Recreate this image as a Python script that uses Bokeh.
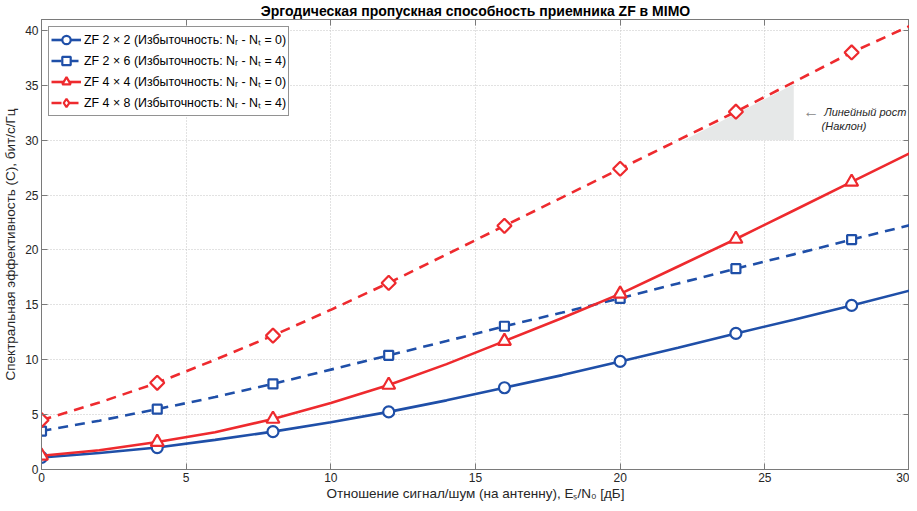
import math
from bokeh.plotting import figure
from bokeh.models import (Range1d, LinearAxis, Legend, LegendItem, Label,
                          FixedTicker)
from bokeh.embed import file_html
from bokeh.resources import INLINE

# ---- data ----
snr_line = [0, 2, 4, 6, 8, 10, 12, 14, 16, 18, 20, 22, 24, 26, 28, 30]
snr_mark = [0, 4, 8, 12, 16, 20, 24, 28]

zf22_line = [1.1, 1.5, 2.0, 2.7, 3.45, 4.3, 5.25, 6.3, 7.45, 8.6, 9.85, 11.1, 12.4, 13.65, 14.95, 16.3]
zf22_mark = [1.1, 2.0, 3.45, 5.25, 7.45, 9.85, 12.4, 14.95]

zf26_line = [3.5, 4.45, 5.5, 6.6, 7.8, 9.1, 10.4, 11.7, 13.05, 14.3, 15.6, 16.95, 18.3, 19.6, 20.95, 22.25]
zf26_mark = [3.5, 5.5, 7.8, 10.4, 13.05, 15.6, 18.3, 20.95]

zf44_line = [1.25, 1.75, 2.5, 3.4, 4.6, 6.05, 7.7, 9.6, 11.7, 13.8, 16.0, 18.5, 21.0, 23.6, 26.2, 28.8]
zf44_mark = [1.25, 2.5, 4.6, 7.7, 11.7, 16.0, 21.0, 26.2]

zf48_line = [4.5, 6.1, 7.9, 10.0, 12.2, 14.55, 17.0, 19.6, 22.2, 24.8, 27.4, 30.0, 32.6, 35.3, 38.0, 40.4]
zf48_mark = [4.5, 7.9, 12.2, 17.0, 22.2, 27.4, 32.6, 38.0]

labels = [
    "ZF 2 \u00d7 2 (Избыточность: N\u1d63 - N\u209c = 0)",
    "ZF 2 \u00d7 6 (Избыточность: N\u1d63 - N\u209c = 4)",
    "ZF 4 \u00d7 4 (Избыточность: N\u1d63 - N\u209c = 0)",
    "ZF 4 \u00d7 8 (Избыточность: N\u1d63 - N\u209c = 4)",
]

slope_x = [22.2, 26.0, 26.0]
slope_y = [30.0, 30.0, 35.1]

x_ticks = [0, 5, 10, 15, 20, 25, 30]
y_ticks = [0, 5, 10, 15, 20, 25, 30, 35, 40]

BLUE = "#1f4fa8"
RED = "#ee2a2e"
FONT = "Liberation Sans"
DARK = "#262626"
FRAME = "#7a7a7a"

p = figure(width=909, height=503, output_backend="svg", toolbar_location=None,
           x_range=Range1d(0, 30), y_range=Range1d(0, 41),
           min_border_left=0, min_border_right=0, min_border_top=0, min_border_bottom=0)
p.title.text = "Эргодическая пропускная способность приемника ZF в MIMO"
p.title.text_font = FONT
p.title.text_font_size = "14px"
p.title.text_font_style = "bold"
p.title.align = "center"
p.title.text_color = "black"
p.title.standoff = 1
p.title.offset = 0

p.outline_line_color = FRAME
p.background_fill_color = "white"
p.border_fill_color = "white"

for ax in (p.xaxis[0], p.yaxis[0]):
    ax.major_tick_in = 6
    ax.major_tick_out = 0
    ax.minor_tick_line_color = None
    ax.axis_line_color = FRAME
    ax.major_tick_line_color = FRAME
    ax.major_label_text_font = FONT
    ax.major_label_text_font_size = "12px"
    ax.major_label_text_color = DARK
    ax.axis_label_text_font = FONT
    ax.axis_label_text_font_size = "13.5px"
    ax.axis_label_text_font_style = "normal"
    ax.axis_label_text_color = DARK
    ax.major_label_standoff = 3

p.xaxis[0].axis_label_standoff = 1
p.yaxis[0].axis_label_standoff = 4
p.xaxis[0].ticker = FixedTicker(ticks=x_ticks)
p.yaxis[0].ticker = FixedTicker(ticks=y_ticks)
p.xaxis[0].axis_label = "Отношение сигнал/шум (на антенну), E\u209b/N\u2080 [дБ]"
p.yaxis[0].axis_label = "Спектральная эффективность (C), бит/с/Гц"

for loc, ticks in (("right", y_ticks), ("above", x_ticks)):
    ax = LinearAxis(ticker=FixedTicker(ticks=ticks))
    ax.major_tick_in = 6
    ax.major_tick_out = 0
    ax.minor_tick_line_color = None
    ax.axis_line_color = FRAME
    ax.major_tick_line_color = FRAME
    ax.major_label_overrides = {t: "" for t in ticks}
    ax.major_label_text_font_size = "1px"
    ax.major_label_standoff = 0
    p.add_layout(ax, loc)

p.xgrid.ticker = FixedTicker(ticks=x_ticks)
p.ygrid.ticker = FixedTicker(ticks=y_ticks)
p.grid.grid_line_color = "#c4c4c4"
p.grid.grid_line_dash = "1 2"
p.grid.grid_line_width = 1

# slope shading
p.patch(slope_x, slope_y, fill_color="#e6e8e8", line_color=None)

lw = 2.6
r1 = p.line(snr_line, zf22_line, line_color=BLUE, line_width=lw)
m1 = p.scatter(snr_mark, zf22_mark, marker="circle", size=11, line_color=BLUE,
               fill_color="white", line_width=2.2)
r2 = p.line(snr_line, zf26_line, line_color=BLUE, line_width=lw, line_dash="10 7")
m2 = p.scatter(snr_mark, zf26_mark, marker="square", size=9, line_color=BLUE,
               fill_color="white", line_width=2.2)
r3 = p.line(snr_line, zf44_line, line_color=RED, line_width=lw)
m3 = p.scatter(snr_mark, zf44_mark, marker="triangle", size=13, line_color=RED,
               fill_color="white", line_width=2.2)
r4 = p.line(snr_line, zf48_line, line_color=RED, line_width=lw, line_dash="10 7")
m4 = p.scatter(snr_mark, zf48_mark, marker="square", angle=math.pi / 4, size=10,
               line_color=RED, fill_color="white", line_width=2.2)
# legend-only diamond glyph (legend glyphs are drawn unrotated; size 0 in the plot)
m4_leg = p.scatter(snr_mark, zf48_mark, marker="diamond", size=0, line_color=RED,
                   fill_color="white", line_width=2.2)

legend = Legend(items=[
    LegendItem(label=labels[0], renderers=[r1, m1]),
    LegendItem(label=labels[1], renderers=[r2, m2]),
    LegendItem(label=labels[2], renderers=[r3, m3]),
    LegendItem(label=labels[3], renderers=[r4, m4_leg]),
], location="top_left")
legend.label_text_font = FONT
legend.label_text_font_size = "12.4px"
legend.label_text_color = "black"
legend.glyph_width = 30
legend.glyph_height = 21
legend.label_height = 18
legend.label_standoff = 3
legend.spacing = 0
legend.padding = 2
legend.margin = 7
legend.border_line_color = DARK
legend.border_line_width = 1
legend.background_fill_alpha = 1
p.add_layout(legend)

p.add_layout(Label(x=26.6, y=32.6, text="\u2190", text_font=FONT, text_font_size="16px",
                   text_color="#888888", text_align="center", text_baseline="middle"))
p.add_layout(Label(x=27.05, y=32.6, text="Линейный рост", text_font=FONT,
                   text_font_size="11px", text_font_style="italic", text_color=DARK,
                   text_baseline="middle"))
p.add_layout(Label(x=26.96, y=31.3, text="(Наклон)", text_font=FONT,
                   text_font_size="11px", text_font_style="italic", text_color=DARK,
                   text_baseline="middle"))

open("out.html", "w").write(file_html(p, INLINE))
